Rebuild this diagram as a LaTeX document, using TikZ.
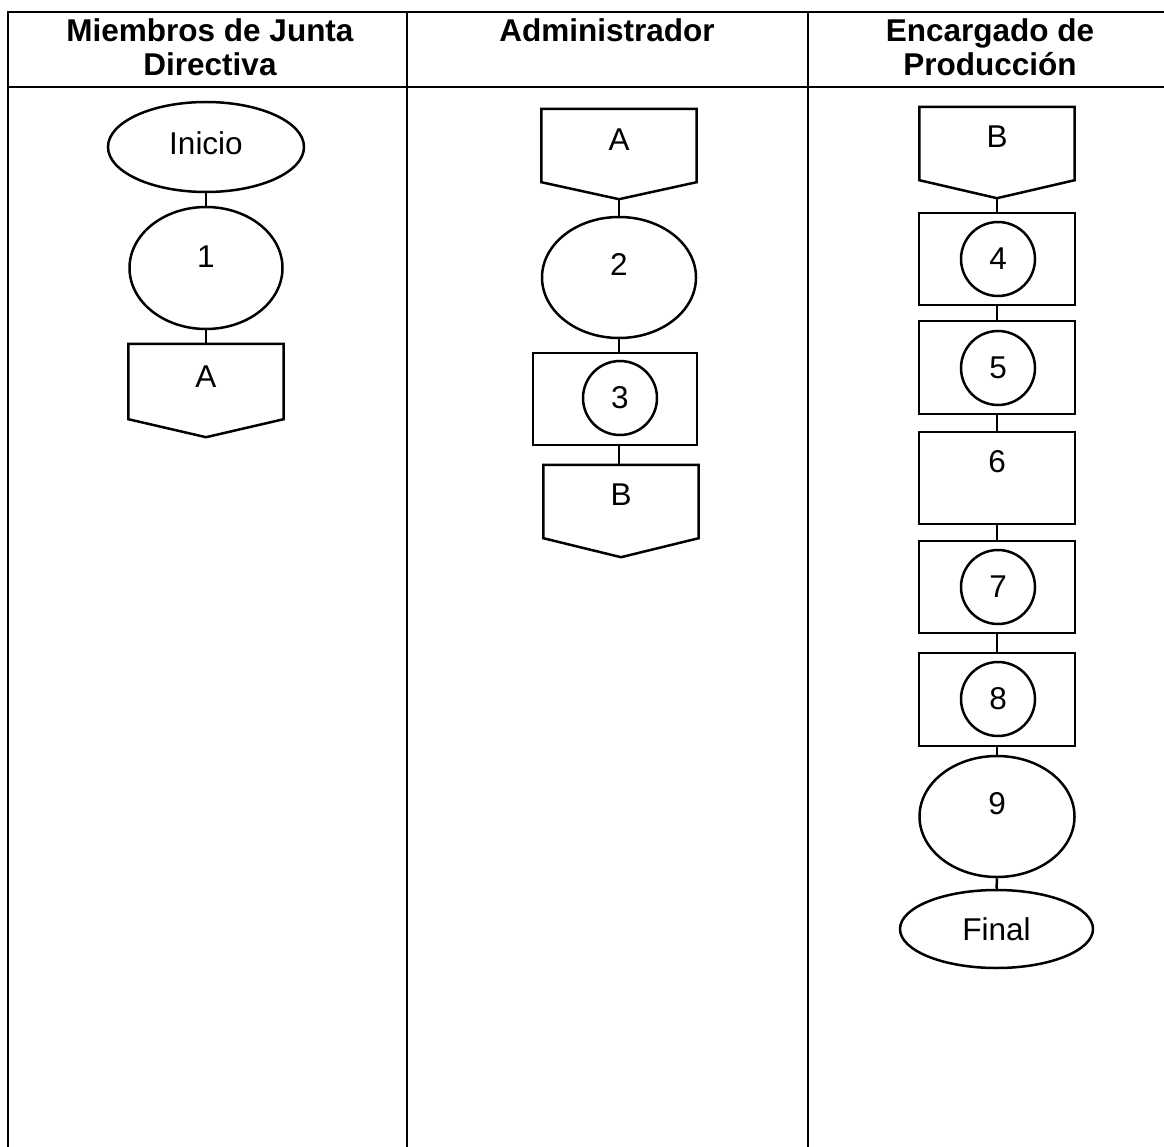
\documentclass[tikz,border=0pt]{standalone}
\usepackage{fontspec}
\setmainfont{Liberation Sans}
\usetikzlibrary{shapes.geometric}
\begin{document}
\begin{tikzpicture}[x=1pt,y=-1pt,
  every node/.style={font=\fontsize{31.5}{36}\selectfont},
  tbl/.style={line width=2.8pt},
  shp/.style={draw, line width=2.5pt},
  oval/.style={shp, ellipse, inner sep=0pt},
  box/.style={shp, rectangle, inner sep=0pt, minimum width=156pt, minimum height=92pt},
  ring/.style={shp, circle, inner sep=0pt, minimum size=74pt},
  offp/.style={rectangle, inner sep=0pt, minimum width=155pt},
  link/.style={line width=2.5pt},
  hdr/.style={font=\fontsize{31.5}{36}\selectfont\bfseries}
]
\useasboundingbox (0,0) rectangle (1164,1147);

% table
\draw[tbl] (1164,12) -- (8,12) -- (8,1147);
\draw[tbl] (8,87) -- (1164,87);
\draw[tbl] (407,12) -- (407,1147);
\draw[tbl] (808,12) -- (808,1147);

% headers
\node[hdr, anchor=base] (h1a) at (210,42) {Miembros de Junta};
\node[hdr, anchor=base] (h1b) at (210,76) {Directiva};
\node[hdr, anchor=base] (h2) at (607,42) {Administrador};
\node[hdr, anchor=base] (h3a) at (990,42) {Encargado de};
\node[hdr, anchor=base] (h3b) at (990,76) {Producción};

% column 1
\node[oval, minimum width=196pt, minimum height=90pt] (ini) at (206,147) {};
\node (tini) at ([yshift=4pt]ini.center) {Inicio};
\node[oval, minimum width=153pt, minimum height=122pt] (p1) at (206,268) {};
\node (t1) at ([yshift=11pt]p1.center) {1};
\node[offp, minimum height=93pt] (oA1) at (206,390.5) {};
\draw[shp] (oA1.north west) -- (oA1.north east) -- ([yshift=18pt]oA1.south east) -- (oA1.south) -- ([yshift=18pt]oA1.south west) -- cycle;
\node (tA1) at ([yshift=-33pt]oA1.north) {A};
\draw[link] (ini.south) -- (p1.north);
\draw[link] (p1.south) -- (oA1.north);

% column 2
\node[offp, minimum height=90pt] (oA2) at (619,154) {};
\draw[shp] (oA2.north west) -- (oA2.north east) -- ([yshift=17pt]oA2.south east) -- (oA2.south) -- ([yshift=17pt]oA2.south west) -- cycle;
\node (tA2) at ([yshift=-31pt]oA2.north) {A};
\node[oval, minimum width=154pt, minimum height=121pt] (p2) at (619,277.5) {};
\node (t2) at ([yshift=13pt]p2.center) {2};
\node[box, minimum width=164pt] (r3) at (615,399) {};
\node[ring] (c3) at (620,398) {3};
\node[offp, minimum height=92pt] (oB2) at (621,511) {};
\draw[shp] (oB2.north west) -- (oB2.north east) -- ([yshift=19pt]oB2.south east) -- (oB2.south) -- ([yshift=19pt]oB2.south west) -- cycle;
\node (tB2) at ([yshift=-30pt]oB2.north) {B};
\draw[link] (oA2.south) -- (oA2.south |- p2.north);
\draw[link] (p2.south) -- (p2.south |- r3.north);
\draw[link] (p2.south |- r3.south) -- (p2.south |- oB2.north);

% column 3
\node[offp, minimum height=91pt] (oB3) at (997,152.5) {};
\draw[shp] (oB3.north west) -- (oB3.north east) -- ([yshift=18pt]oB3.south east) -- (oB3.south) -- ([yshift=18pt]oB3.south west) -- cycle;
\node (tB3) at ([yshift=-30pt]oB3.north) {B};
\node[box] (r4) at (997,259) {};
\node[ring] (c4) at (998,259) {4};
\node[box, minimum height=93pt] (r5) at (997,367.5) {};
\node[ring] (c5) at (998,368) {5};
\node[box] (r6) at (997,478) {};
\node (t6) at ([yshift=-31pt]r6.north) {6};
\node[box] (r7) at (997,587) {};
\node[ring] (c7) at (998,587) {7};
\node[box, minimum height=93pt] (r8) at (997,699.5) {};
\node[ring] (c8) at (998,699) {8};
\node[oval, minimum width=155pt, minimum height=121pt] (p9) at (997,816.5) {};
\node (t9) at ([yshift=13pt]p9.center) {9};
\node[oval, minimum width=193pt, minimum height=78pt] (fin) at (996.5,929) {Final};
\draw[link] (oB3.south) -- (r4.north);
\draw[link] (r4.south) -- (r5.north);
\draw[link] (r5.south) -- (r6.north);
\draw[link] (r6.south) -- (r7.north);
\draw[link] (r7.south) -- (r8.north);
\draw[link] (r8.south) -- (p9.north);
\draw[link] (p9.south) -- (fin.north);
\end{tikzpicture}
\end{document}
